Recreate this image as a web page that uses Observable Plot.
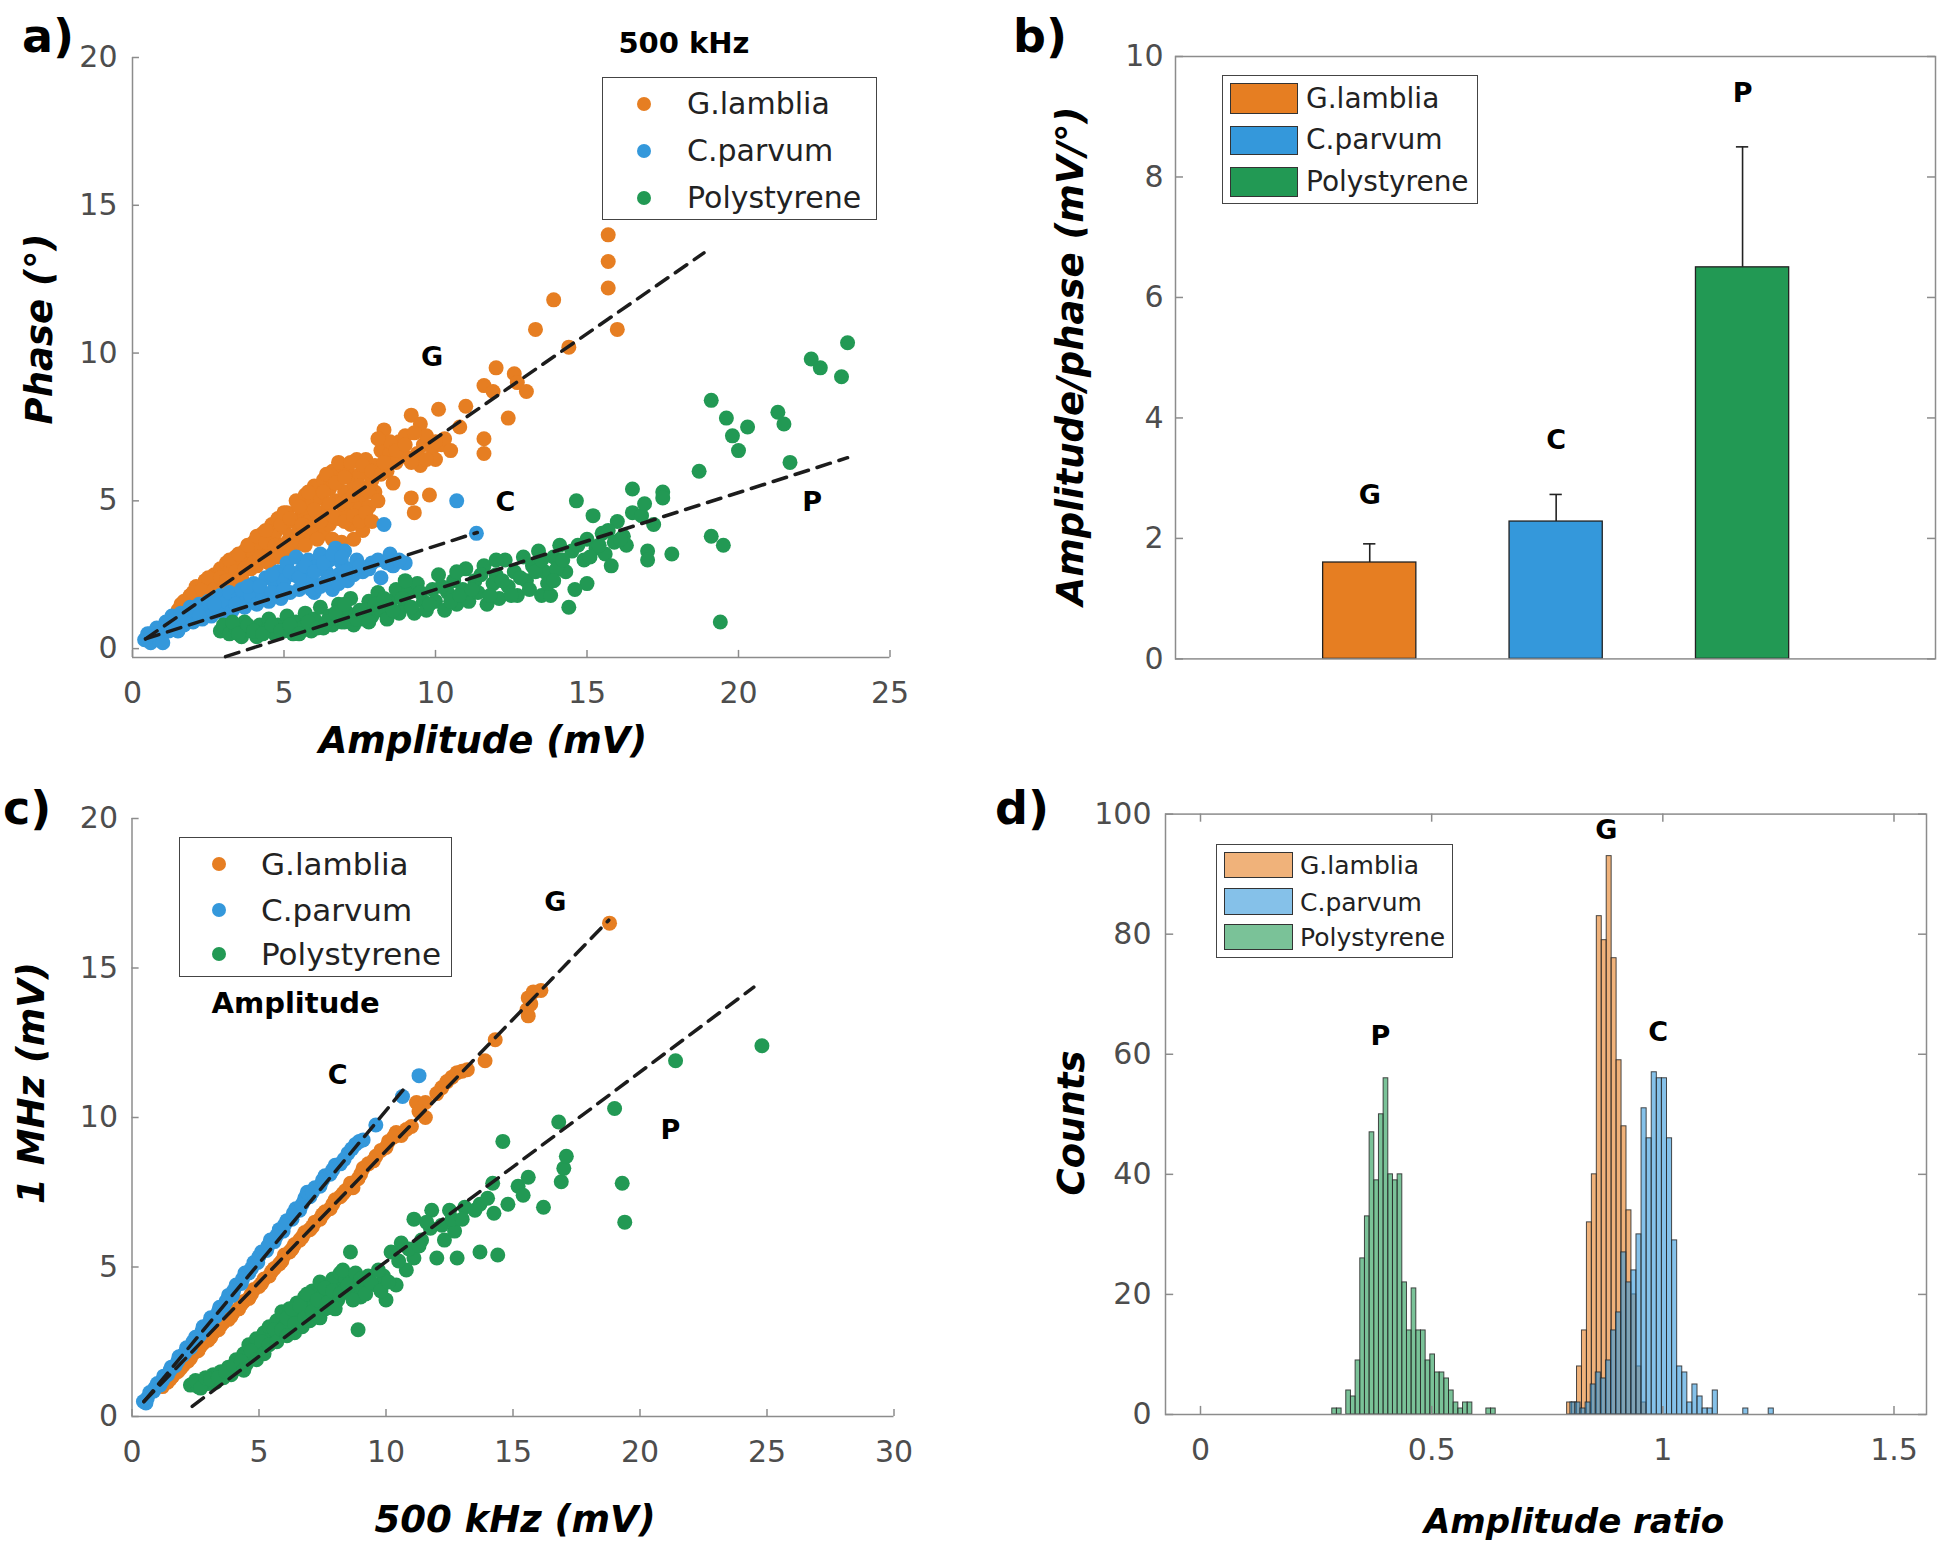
<!DOCTYPE html>
<html><head><meta charset="utf-8">
<script src="https://cdn.jsdelivr.net/npm/d3@7"></script>
<script src="https://cdn.jsdelivr.net/npm/@observablehq/plot@0.6"></script>
<style>
body{margin:0;background:#fff;}
#fig{position:relative;width:1940px;height:1547px;overflow:hidden;background:#fff;font-family:"DejaVu Sans",sans-serif;}
.panel{position:absolute;}
.lbl{position:absolute;white-space:nowrap;line-height:1;}
.ctr{transform:translate(-50%,-50%);}
.rot{transform:translate(-50%,-50%) rotate(-90deg);}
.leg{position:absolute;box-sizing:border-box;border:1.5px solid #444;background:#fff;}
</style></head><body><div id="fig"></div>
<script>
// ---------- colours ----------
const orange = "#E67E22", blue = "#3498DB", green = "#229954";
const axisGray = "#8c8c8c", tickText = "#4d4d4d", fitColor = "#1c1c1c";
const FONT = "DejaVu Sans, sans-serif";

// ---------- panel a : phase vs amplitude (500 kHz) ----------
const aGlamblia = [[1.5,1.3],[1.6,1.5],[1.8,1.4],[1.9,1.8],[2.0,1.6],[2.1,2.1],[2.2,1.8],[2.3,1.5],[2.4,2.3],[2.5,2.0],[2.6,1.8],[2.7,2.5],[2.8,2.2],[2.9,2.7],[3.0,2.0],[3.0,2.4],[3.1,2.9],[3.2,2.6],[3.3,2.2],[3.4,3.1],[3.5,2.8],[3.6,2.4],[3.7,3.3],[3.8,3.0],[3.9,2.7],[4.0,3.6],[4.0,3.2],[4.1,2.8],[4.2,3.5],[4.3,3.9],[4.4,3.1],[4.5,3.7],[4.6,4.2],[4.6,3.3],[4.7,3.9],[4.8,4.4],[4.9,3.5],[5.0,4.1],[5.0,3.3],[5.1,4.6],[5.2,3.8],[5.3,4.3],[5.4,5.0],[5.4,3.6],[5.5,4.0],[5.6,4.6],[5.7,5.2],[5.8,3.8],[5.8,4.3],[5.9,4.9],[6.0,5.5],[6.0,4.0],[6.1,4.5],[6.2,5.1],[6.3,5.7],[6.3,3.9],[6.4,4.7],[6.5,5.4],[6.5,4.2],[6.6,6.0],[6.7,5.0],[6.8,4.4],[6.8,5.7],[6.9,6.2],[6.9,3.6],[7.0,4.7],[7.0,5.3],[7.1,6.0],[7.2,4.2],[7.3,5.6],[7.3,3.7],[7.4,6.4],[7.4,4.9],[7.5,5.9],[7.6,5.2],[7.6,4.0],[7.7,6.4],[7.8,4.8],[7.9,5.7],[8.0,6.2],[8.0,5.3],[8.2,6.7],[8.3,7.4],[8.4,6.0],[8.5,6.6],[8.6,5.6],[8.7,6.3],[8.8,7.0],[9.0,6.5],[9.0,7.2],[9.2,7.9],[9.2,5.1],[9.3,4.6],[9.4,6.6],[9.5,7.6],[9.5,6.2],[9.6,6.9],[9.7,7.2],[9.8,5.2],[9.9,6.8],[10.0,6.4],[10.1,8.1],[10.2,6.9],[10.3,7.1],[10.5,6.7],[10.8,7.5],[11.0,8.2],[11.6,7.1],[11.6,6.6],[11.6,8.9],[11.9,8.7],[12.0,9.5],[12.4,7.8],[12.6,9.3],[12.7,9.0],[13.0,8.7],[13.3,10.8],[13.9,11.8],[14.4,10.2],[15.7,14.0],[15.7,13.1],[15.7,12.2],[16.0,10.8],
  [1.7,1.6],[2.0,1.9],[2.3,2.0],[2.5,2.4],[2.7,2.0],[2.9,2.4],[3.1,2.3],[3.2,3.0],[3.4,2.6],[3.5,3.2],[3.7,2.7],[3.8,3.5],[4.0,2.9],[4.1,3.8],[4.2,3.1],[4.4,3.6],[4.4,4.0],[4.5,2.9],[4.7,3.5],[4.8,3.1],[4.9,4.2],[5.0,4.6],[5.1,3.6],[5.2,4.4],[5.3,3.4],[5.5,4.8],[5.5,3.6],[5.6,4.2],[5.7,3.5],[5.8,5.3],[5.9,4.1],[6.0,4.7],[6.1,3.7],[6.2,4.3],[6.3,5.3],[6.4,5.9],[6.5,4.9],[6.6,3.7],[6.6,4.5],[6.7,5.6],[6.8,6.3],[6.9,4.9],[7.0,4.3],[7.0,5.8],[7.1,5.0],[7.2,6.3],[7.3,4.5],[7.3,5.2],[7.5,4.3],[7.5,5.5],[7.6,6.2],[7.7,4.6],[7.8,5.3],[7.9,6.0],[7.9,4.3],[8.1,5.0],[8.2,5.9],[8.3,6.3],[8.5,7.0],[8.7,6.7],[9.0,6.9],[9.2,6.3],[9.3,7.3],[9.7,6.4],[10.0,7.0],[8.1,7.1]];
const aCparvum = [[0.4,0.3],[0.5,0.5],[0.6,0.2],[0.7,0.4],[0.8,0.7],[0.9,0.3],[1.0,0.5],[1.1,0.9],[1.2,0.6],[1.3,1.1],[1.4,0.7],[1.5,0.9],[1.6,1.2],[1.7,0.8],[1.8,1.0],[1.9,1.4],[2.0,0.9],[2.1,1.2],[2.2,1.5],[2.3,1.0],[2.4,1.3],[2.5,1.6],[2.6,1.1],[2.8,1.4],[2.9,1.8],[3.0,1.2],[3.1,1.6],[3.2,1.9],[3.3,1.3],[3.5,1.7],[3.6,2.0],[3.7,1.4],[3.9,1.8],[4.0,2.2],[4.1,1.5],[4.3,1.9],[4.4,2.4],[4.5,1.6],[4.7,2.1],[4.8,2.6],[4.9,1.7],[5.0,2.3],[5.1,2.9],[5.2,1.9],[5.3,2.5],[5.4,3.1],[5.5,2.0],[5.6,2.7],[5.7,2.2],[5.8,3.0],[5.9,2.4],[6.0,1.9],[6.1,2.8],[6.2,3.2],[6.3,2.2],[6.4,2.6],[6.5,3.0],[6.6,2.0],[6.7,3.4],[6.8,2.5],[6.9,2.9],[7.0,3.3],[7.1,2.3],[7.2,2.7],[7.4,3.0],[7.6,2.6],[7.9,2.9],[8.1,3.0],[8.2,2.4],[8.5,3.2],[8.6,2.8],[9.0,2.9],[8.3,4.2],[10.7,5.0],[11.35,3.9],
  [2.7,1.5],[3.4,1.5],[3.8,2.1],[4.2,2.1],[4.6,1.9],[4.6,2.5],[5.0,2.0],[5.2,2.6],[5.5,2.4],[5.7,2.8],[5.9,2.0],[6.0,2.6],[6.2,2.1],[6.3,2.9],[6.5,2.4],[6.6,3.2],[6.8,2.2],[6.9,3.1],[7.0,2.6],[7.3,2.5],[7.5,2.8],[7.8,2.7],[8.4,2.9],[8.8,3.0],[1.2,0.9],[1.5,0.6],[2.2,1.1],[1.0,0.2],[0.6,0.5]];
const aPolystyrene = [[2.9,0.6],[3.0,0.8],[3.2,0.5],[3.4,0.7],[3.6,0.4],[3.7,0.9],[3.9,0.6],[4.1,0.4],[4.2,0.8],[4.4,0.6],[4.5,1.0],[4.7,0.5],[4.8,0.8],[5.0,0.6],[5.1,1.1],[5.3,0.5],[5.4,0.9],[5.6,0.7],[5.7,1.2],[5.9,0.6],[6.0,1.0],[6.2,1.4],[6.3,0.7],[6.5,1.1],[6.6,0.8],[6.8,1.5],[6.9,0.9],[7.1,1.2],[7.2,1.7],[7.3,0.8],[7.5,1.3],[7.6,1.0],[7.8,1.6],[7.9,1.1],[8.1,1.9],[8.2,1.3],[8.4,1.0],[8.5,1.6],[8.7,2.0],[8.8,1.2],[9.0,1.5],[9.1,1.9],[9.3,1.2],[9.4,2.2],[9.6,1.6],[9.7,1.3],[9.9,2.0],[10.0,1.6],[10.1,2.5],[10.3,1.3],[10.4,1.9],[10.6,2.3],[10.7,1.5],[10.9,2.0],[11.0,2.7],[11.1,1.6],[11.3,2.3],[11.4,1.9],[11.6,2.8],[11.7,1.5],[11.9,2.2],[12.0,2.5],[12.1,1.7],[12.3,3.0],[12.4,2.1],[12.6,2.6],[12.7,1.8],[12.9,3.1],[13.0,2.3],[13.2,2.8],[13.4,3.3],[13.5,1.8],[13.8,1.8],[13.6,2.6],[13.9,3.1],[14.1,3.5],[14.3,2.6],[14.4,1.4],[14.5,3.3],[14.65,5.0],[14.9,3.0],[15.0,3.7],[15.0,2.2],[15.2,4.5],[15.3,3.4],[15.5,3.9],[15.6,3.2],[15.8,2.8],[15.9,3.6],[16.0,4.3],[16.2,3.8],[16.3,3.5],[16.5,5.4],[16.5,4.6],[16.8,4.5],[16.9,4.9],[17.0,3.3],[17.0,3.0],[17.2,4.2],[17.5,5.3],[17.5,5.1],[17.8,3.2],[18.7,6.0],[19.1,8.4],[19.1,3.8],[19.5,3.5],[19.4,0.9],[19.6,7.8],[19.8,7.2],[20.0,6.7],[20.3,7.5],[21.3,8.0],[21.5,7.6],[21.7,6.3],[22.4,9.8],[22.7,9.5],[23.4,9.2],[23.6,10.35],
  [3.3,0.9],[3.5,0.5],[3.8,0.8],[4.0,0.6],[4.3,0.5],[4.6,0.8],[4.9,0.6],[5.2,0.8],[5.5,0.5],[5.8,0.9],[6.1,0.7],[6.4,0.9],[6.7,1.2],[7.0,0.9],[7.0,1.5],[7.4,1.0],[7.7,1.3],[7.8,0.9],[8.0,1.5],[8.3,1.7],[8.6,1.3],[8.9,1.7],[9.2,1.4],[9.5,1.9],[9.8,1.5],[10.2,2.1],[10.5,1.6],[10.8,1.8],[11.2,2.0],[11.5,2.5],[11.8,1.8],[12.2,2.3],[12.5,1.8],[12.8,2.4],[13.1,2.0],[13.3,2.6],[13.7,2.2],[14.0,2.7],[14.2,3.0],[14.7,3.5],[15.1,3.1],[15.4,3.5],[15.7,4.0],[16.1,3.7],[14.6,2.0],[13.9,2.3],[9.0,2.3],[10.7,2.6],[12.0,3.0],[13.5,3.0]];
const aFitG = [[0.43,0.33],[18.86,13.39]];
const aFitC = [[0.43,0.33],[11.38,3.93]];
const aFitP = [[3.07,-0.27],[23.6,6.46]];
const aXTicks = [0,5,10,15,20,25];
const aYTicks = [0,5,10,15,20];
const aLetters = [{x:9.89,y:9.86,t:"G"},{x:12.31,y:4.95,t:"C"},{x:22.43,y:4.95,t:"P"}];

// ---------- panel b : amplitude / phase ----------
const bCategories = ["G.lamblia","C.parvum","Polystyrene"];
const bMeans = [1.60, 2.28, 6.50];
const bErrors = [0.31, 0.45, 2.00];
const bLetters = ["G","C","P"];
const bLetterY = [2.71, 3.62, 9.38];
const bYTicks = [0,2,4,6,8,10];

// ---------- panel c : 1 MHz vs 500 kHz amplitude ----------
const cGlamblia = [[1.2,1.0],[1.4,1.15],[1.6,1.35],[1.8,1.5],[2.0,1.7],[2.2,1.85],[2.4,2.1],[2.6,2.2],[2.8,2.45],[3.0,2.55],[3.2,2.8],[3.4,2.9],[3.6,3.15],[3.8,3.25],[4.0,3.5],[4.2,3.6],[4.4,3.85],[4.6,3.95],[4.8,4.25],[5.0,4.35],[5.2,4.6],[5.4,4.7],[5.6,4.95],[5.8,5.1],[6.0,5.4],[6.2,5.5],[6.4,5.75],[6.6,5.9],[6.8,6.15],[7.0,6.25],[7.2,6.5],[7.4,6.6],[7.6,6.85],[7.8,6.95],[8.0,7.25],[8.2,7.35],[8.4,7.55],[8.6,7.8],[8.9,7.95],[9.1,8.3],[9.3,8.45],[9.6,8.7],[9.8,8.9],[10.1,9.2],[10.4,9.5],[10.6,9.4],[11.0,9.7],[11.2,10.5],[11.55,10.5],[11.55,10.0],[12.2,11.0],[12.6,11.35],[12.8,11.5],[13.2,11.6],[13.9,11.9],[14.3,12.6],[15.55,13.6],[15.6,13.4],[15.6,14.0],[15.8,14.2],[16.1,14.25],[18.8,16.5],
  [1.5,1.25],[1.9,1.6],[2.3,1.95],[2.7,2.35],[3.1,2.65],[3.5,3.05],[3.9,3.35],[4.3,3.75],[4.7,4.1],[5.1,4.45],[5.5,4.85],[5.9,5.2],[6.3,5.6],[6.7,6.0],[7.1,6.35],[7.5,6.75],[7.9,7.1],[8.3,7.45],[8.7,7.65],[9.0,8.1],[9.5,8.55],[10.0,9.0],[10.3,9.35],[10.8,9.6],[11.3,10.2],[12.0,10.8],[12.4,11.2],[13.0,11.55],[15.7,13.8]];
const cCparvum = [[0.45,0.5],[0.6,0.6],[0.7,0.8],[0.85,0.85],[1.0,1.1],[1.1,1.05],[1.25,1.35],[1.4,1.4],[1.55,1.65],[1.7,1.7],[1.85,2.0],[2.0,2.05],[2.15,2.3],[2.3,2.3],[2.5,2.65],[2.65,2.7],[2.8,3.0],[2.95,3.0],[3.1,3.3],[3.3,3.35],[3.45,3.65],[3.6,3.7],[3.8,4.05],[3.95,4.05],[4.1,4.4],[4.3,4.45],[4.45,4.8],[4.6,4.8],[4.8,5.15],[4.95,5.15],[5.1,5.5],[5.3,5.55],[5.45,5.9],[5.6,5.85],[5.8,6.25],[5.95,6.2],[6.1,6.55],[6.3,6.6],[6.45,6.95],[6.6,6.9],[6.8,7.3],[7.0,7.35],[7.2,7.65],[7.4,7.7],[7.6,8.05],[7.8,8.1],[8.0,8.4],[8.2,8.45],[8.5,8.8],[8.8,9.1],[9.1,9.25],[9.6,9.75],[10.65,10.7],[11.3,11.4],
  [0.55,0.45],[0.9,0.95],[1.2,1.2],[1.5,1.55],[1.8,1.85],[2.1,2.15],[2.4,2.5],[2.75,2.85],[3.05,3.15],[3.4,3.5],[3.7,3.85],[4.0,4.2],[4.35,4.6],[4.7,4.95],[5.0,5.35],[5.35,5.7],[5.7,6.05],[6.0,6.4],[6.35,6.8],[6.7,7.1],[6.9,7.5],[7.1,7.5],[7.5,7.9],[7.9,8.25],[8.35,8.6],[8.65,8.95],[8.95,9.2]];
const cPolystyrene = [[2.3,1.05],[2.6,1.0],[2.8,1.2],[3.0,1.1],[3.2,1.4],[3.3,1.15],[3.5,1.5],[3.6,1.3],[3.8,1.65],[3.9,1.4],[4.1,1.9],[4.2,1.6],[4.4,2.1],[4.5,1.75],[4.6,2.4],[4.8,2.0],[4.9,2.6],[5.0,2.25],[5.2,2.8],[5.3,2.4],[5.4,3.0],[5.5,2.6],[5.7,3.2],[5.8,2.7],[5.9,3.5],[6.0,3.0],[6.2,3.6],[6.3,3.2],[6.4,2.8],[6.5,3.8],[6.6,3.4],[6.7,3.0],[6.8,4.0],[6.9,3.6],[7.0,3.2],[7.1,4.2],[7.2,3.8],[7.3,3.4],[7.4,4.5],[7.5,4.0],[7.6,3.6],[7.7,4.3],[7.8,3.8],[7.9,4.6],[8.0,4.1],[8.1,3.9],[8.2,4.8],[8.3,4.3],[8.4,4.6],[8.6,5.5],[8.6,4.1],[8.9,2.9],[8.8,4.5],[9.0,4.0],[9.1,4.3],[9.3,4.7],[9.6,4.4],[9.9,4.7],[10.0,3.9],[10.2,5.5],[10.4,4.4],[10.6,5.8],[10.8,4.9],[11.1,5.3],[11.1,6.6],[11.4,5.9],[11.75,6.3],[11.8,6.9],[12.0,5.3],[12.3,5.9],[12.5,6.9],[12.7,6.2],[12.8,5.3],[13.1,7.0],[13.7,7.1],[13.7,5.5],[14.2,7.8],[14.25,6.8],[14.4,5.4],[14.6,9.2],[14.8,7.1],[15.2,7.7],[15.4,7.4],[15.6,8.0],[16.2,7.0],[16.8,9.85],[16.9,7.85],[17.0,8.3],[17.1,8.7],[19.0,10.3],[19.3,7.8],[19.4,6.5],[21.4,11.9],[24.8,12.4],
  [2.5,1.2],[2.7,0.95],[2.9,1.3],[3.1,1.25],[3.4,1.3],[3.7,1.5],[4.0,1.7],[4.3,1.85],[4.4,1.55],[4.7,2.2],[4.9,1.9],[5.1,2.5],[5.2,2.1],[5.4,2.4],[5.6,2.9],[5.7,2.5],[5.9,2.9],[6.1,3.3],[6.1,2.7],[6.3,3.6],[6.4,3.1],[6.6,3.7],[6.8,3.3],[6.9,4.1],[7.1,3.5],[7.3,3.9],[7.4,3.3],[7.6,4.3],[7.7,3.8],[7.9,4.2],[8.0,3.6],[8.2,4.1],[8.3,4.9],[8.5,4.4],[8.7,3.9],[8.8,4.8],[9.0,4.6],[9.2,4.1],[9.4,4.5],[9.7,4.9],[9.8,4.2],[10.1,4.5],[10.5,5.2],[10.9,5.6],[11.3,5.7],[11.6,6.5],[12.2,6.4],[12.6,6.6],[13.0,6.6],[13.5,6.9],[14.0,7.3]];
const cFitG = [[0.47,0.5],[18.77,16.6]];
const cFitC = [[0.47,0.5],[10.85,11.1]];
const cFitP = [[2.37,0.34],[24.48,14.36]];
const cXTicks = [0,5,10,15,20,25,30];
const cYTicks = [0,5,10,15,20];
const cLetters = [{x:16.67,y:17.2,t:"G"},{x:8.1,y:11.4,t:"C"},{x:21.2,y:9.57,t:"P"}];

// ---------- panel d : amplitude ratio histograms ----------
const dStartG = 0.793, dWidthG = 0.0107;
const dCountsG = [2,2,8,14,32,40,83,79,93,76,59,48,34,20,8,2];
const dStartC = 0.800, dWidthC = 0.011;
const dCountsC = [2,2,1,2,5,7,6,9,14,17,27,22,24,30,51,46,57,56,56,46,29,8,7,2,5,3,1,1,4,0,0,0,0,0,1,0,0,0,0,1];
const dStartP = 0.285, dWidthP = 0.0101;
const dCountsP = [1,1,0,4,3,9,26,33,47,39,50,56,40,39,40,22,14,21,14,14,9,10,7,7,6,4,2,1,2,2,0,0,0,1,1];
const dXTicks = [0,0.5,1,1.5];
const dYTicks = [0,20,40,60,80,100];
const dLetters = [{x:0.878,y:97.3,t:"G"},{x:0.99,y:63.7,t:"C"},{x:0.389,y:63.0,t:"P"}];

// ---------- helpers ----------
const fig = document.getElementById("fig");
const TICKFS = 30;
const style = {fontFamily: FONT, fontSize: TICKFS+"px", color: tickText, background: "transparent", overflow: "visible"};
const fmt = d => String(d);
function place(svg, left, top){ const d=document.createElement("div"); d.className="panel"; d.style.left=left+"px"; d.style.top=top+"px"; d.appendChild(svg); fig.appendChild(d); }
function label(text, x, y, size, cls, extra){ const d=document.createElement("div"); d.className="lbl "+cls; d.textContent=text; d.style.left=x+"px"; d.style.top=y+"px"; d.style.fontSize=size+"px"; Object.assign(d.style, extra||{}); fig.appendChild(d); return d; }
function baseLabel(text, x, baseline, size){ return label(text, x, baseline-0.846*size, size, "", {fontWeight:"bold", color:"#000"}); }
const xy = {x: d=>d[0], y: d=>d[1]};
const dots = (data, color) => Plot.dot(data, {...xy, r: 7.5, fill: color});
const fit = data => Plot.line(data, {...xy, stroke: fitColor, strokeWidth: 3.5, strokeDasharray: "14,9"});
const letters = (data, size) => Plot.text(data, {x:"x", y:"y", text:"t", fontSize:size, fontWeight:"bold", fill:"#000", fontFamily: FONT});
function bins(start, width, counts){ return counts.map((c,i)=>({x1:start+i*width, x2:start+(i+1)*width, count:c})).filter(d=>d.count>0); }

// ---------- panel a ----------
place(Plot.plot({
  width: 970, height: 773, marginLeft: 132, marginRight: 80.5, marginTop: 57, marginBottom: 116,
  x: {domain:[0,25]}, y: {domain:[-0.3,20]}, style,
  marks: [
    Plot.ruleX([0], {stroke: axisGray, strokeWidth: 1.5}),
    Plot.ruleY([-0.3], {stroke: axisGray, strokeWidth: 1.5}),
    Plot.ruleX(aXTicks, {x: d=>d, y1: -0.3, y2: -0.06, stroke: axisGray, strokeWidth: 1.5}),
    Plot.ruleY(aYTicks, {y: d=>d, x1: 0, x2: 0.23, stroke: axisGray, strokeWidth: 1.5}),
    Plot.axisX({ticks: aXTicks, tickFormat: fmt, tickSize: 0, tickPadding: 24, fontSize: TICKFS, label: null}),
    Plot.axisY({ticks: aYTicks, tickFormat: fmt, tickSize: 0, tickPadding: 15, fontSize: TICKFS, label: null}),
    dots(aGlamblia, orange), dots(aCparvum, blue), dots(aPolystyrene, green),
    fit(aFitG), fit(aFitC), fit(aFitP),
    letters(aLetters, 27),
    Plot.text(["500 kHz"], {x: 18.2, y: 20.47, text: d=>d, fontSize: 29, fontWeight: "bold", fill: "#000", fontFamily: FONT})
  ]
}), 0, 0);

// ---------- panel b ----------
const bBars = bCategories.map((c,i)=>({i:i+1, cat:c, mean:bMeans[i], err:bErrors[i], color:[orange,blue,green][i], letter:bLetters[i], ly:bLetterY[i]}));
place(Plot.plot({
  width: 970, height: 773, marginLeft: 205, marginRight: 5, marginTop: 56, marginBottom: 114.6,
  x: {domain:[-0.042,4.035], axis: null}, y: {domain:[0,10]}, style,
  marks: [
    Plot.rectY(bBars, {x1: d=>d.i-0.25, x2: d=>d.i+0.25, y1: 0, y2: "mean", fill: "color", stroke: "#222", strokeWidth: 1.3}),
    Plot.ruleX(bBars, {x: "i", y1: "mean", y2: d=>d.mean+d.err, stroke: "#222", strokeWidth: 1.6}),
    Plot.ruleY(bBars, {y: d=>d.mean+d.err, x1: d=>d.i-0.033, x2: d=>d.i+0.033, stroke: "#222", strokeWidth: 1.6}),
    Plot.frame({stroke: axisGray, strokeWidth: 1.5}),
    Plot.ruleY(bYTicks, {y: d=>d, x1: -0.042, x2: 0.001, stroke: axisGray, strokeWidth: 1.5}),
    Plot.ruleY(bYTicks, {y: d=>d, x1: 3.992, x2: 4.035, stroke: axisGray, strokeWidth: 1.5}),
    Plot.axisY({ticks: bYTicks, tickFormat: fmt, tickSize: 0, tickPadding: 12, fontSize: TICKFS, label: null}),
    Plot.text(bBars, {x: "i", y: "ly", text: "letter", fontSize: 27, fontWeight: "bold", fill: "#000", fontFamily: FONT})
  ]
}), 970, 0);

// ---------- panel c ----------
place(Plot.plot({
  width: 970, height: 774, marginLeft: 131.5, marginRight: 76.5, marginTop: 45, marginBottom: 131,
  x: {domain:[0,30]}, y: {domain:[0,20]}, style,
  marks: [
    Plot.ruleX([0], {stroke: axisGray, strokeWidth: 1.5}),
    Plot.ruleY([0], {stroke: axisGray, strokeWidth: 1.5}),
    Plot.ruleX(cXTicks, {x: d=>d, y1: 0, y2: 0.23, stroke: axisGray, strokeWidth: 1.5}),
    Plot.ruleY(cYTicks, {y: d=>d, x1: 0, x2: 0.28, stroke: axisGray, strokeWidth: 1.5}),
    Plot.axisX({ticks: cXTicks, tickFormat: fmt, tickSize: 0, tickPadding: 24, fontSize: TICKFS, label: null}),
    Plot.axisY({ticks: cYTicks, tickFormat: fmt, tickSize: 0, tickPadding: 14, fontSize: TICKFS, label: null}),
    dots(cGlamblia, orange), dots(cCparvum, blue), dots(cPolystyrene, green),
    fit(cFitG), fit(cFitC), fit(cFitP),
    letters(cLetters, 27),
    Plot.text(["Amplitude"], {x: 3.13, y: 13.8, text: d=>d, textAnchor: "start", fontSize: 29, fontWeight: "bold", fill: "#000", fontFamily: FONT})
  ]
}), 0, 773);

// ---------- panel d ----------
const histStyle = {fillOpacity: 0.6, stroke: "#2a2a2a", strokeWidth: 1, strokeOpacity: 0.85};
place(Plot.plot({
  width: 970, height: 774, marginLeft: 195, marginRight: 14, marginTop: 40.6, marginBottom: 133,
  x: {domain:[-0.0757,1.5703]}, y: {domain:[0,100]}, style,
  marks: [
    Plot.rectY(bins(dStartG,dWidthG,dCountsG), {x1:"x1", x2:"x2", y1:0, y2:"count", fill: orange, ...histStyle}),
    Plot.rectY(bins(dStartC,dWidthC,dCountsC), {x1:"x1", x2:"x2", y1:0, y2:"count", fill: blue, ...histStyle}),
    Plot.rectY(bins(dStartP,dWidthP,dCountsP), {x1:"x1", x2:"x2", y1:0, y2:"count", fill: green, ...histStyle}),
    Plot.frame({stroke: axisGray, strokeWidth: 1.5}),
    Plot.ruleX(dXTicks, {x: d=>d, y1: 0, y2: 1.35, stroke: axisGray, strokeWidth: 1.5}),
    Plot.ruleX(dXTicks, {x: d=>d, y1: 98.65, y2: 100, stroke: axisGray, strokeWidth: 1.5}),
    Plot.ruleY(dYTicks, {y: d=>d, x1: -0.0757, x2: -0.058, stroke: axisGray, strokeWidth: 1.5}),
    Plot.ruleY(dYTicks, {y: d=>d, x1: 1.553, x2: 1.5703, stroke: axisGray, strokeWidth: 1.5}),
    Plot.axisX({ticks: dXTicks, tickFormat: fmt, tickSize: 0, tickPadding: 24, fontSize: TICKFS, label: null}),
    Plot.axisY({ticks: dYTicks, tickFormat: fmt, tickSize: 0, tickPadding: 14, fontSize: TICKFS, label: null}),
    letters(dLetters, 27)
  ]
}), 970, 773);

// ---------- panel letters ----------
baseLabel("a)", 22, 52, 46);
baseLabel("b)", 1013, 52, 46);
baseLabel("c)", 3, 824, 46);
baseLabel("d)", 995, 824, 46);

// ---------- axis titles ----------
const T = {fontWeight:"bold", fontStyle:"italic", color:"#000"};
label("Amplitude (mV)", 483, 740, 37, "ctr", T);
label("Phase (°)", 39, 329, 37, "rot", T);
label("Amplitude/phase (mV/°)", 1070, 356, 37, "rot", T);
label("500 kHz (mV)", 515, 1519, 37, "ctr", T);
label("1 MHz (mV)", 31, 1083, 37, "rot", T);
label("Amplitude ratio", 1574, 1521, 34, "ctr", T);
label("Counts", 1071, 1123, 37, "rot", T);

// ---------- legends ----------
function legendBox(l, t, w, h){ const d=document.createElement("div"); d.className="leg"; Object.assign(d.style,{left:l+"px",top:t+"px",width:w+"px",height:h+"px"}); fig.appendChild(d); }
function legendDot(cx, cy, color){ const d=document.createElement("div"); Object.assign(d.style,{position:"absolute",left:(cx-7)+"px",top:(cy-7)+"px",width:"14px",height:"14px",borderRadius:"50%",background:color}); fig.appendChild(d); }
function legendSwatch(x1, y1, x2, y2, color, alpha){ const d=document.createElement("div"); Object.assign(d.style,{position:"absolute",boxSizing:"border-box",left:x1+"px",top:y1+"px",width:(x2-x1)+"px",height:(y2-y1)+"px",border:"1.5px solid #333"}); const f=document.createElement("div"); Object.assign(f.style,{width:"100%",height:"100%",background:color,opacity:alpha}); d.appendChild(f); fig.appendChild(d); }
function legendText(text, x, cy, size){ const d=label(text, x, cy, size, "", {color:"#222"}); d.style.transform="translateY(-50%)"; }

legendBox(602, 77, 275, 143);
[[104,orange],[151,blue],[198,green]].forEach(([cy,c],i)=>{ legendDot(643.7, cy, c); legendText(bCategories[i], 687, cy, 30); });
legendBox(1222, 75, 256, 129);
[[83,114,orange],[126,154.5,blue],[167,196.5,green]].forEach(([y1,y2,c],i)=>{ legendSwatch(1230, y1, 1298, y2, c, 1); legendText(bCategories[i], 1306, (y1+y2)/2, 28); });
legendBox(178.5, 836.5, 273.5, 140);
[[864,orange],[909.5,blue],[954,green]].forEach(([cy,c],i)=>{ legendDot(219, cy, c); legendText(bCategories[i], 261, cy, 31); });
legendBox(1216, 844, 237, 114);
[[852,878,orange],[888,915,blue],[924,950,green]].forEach(([y1,y2,c],i)=>{ legendSwatch(1224, y1, 1293, y2, c, 0.6); legendText(bCategories[i], 1300, (y1+y2)/2, 25); });
</script></body></html>
